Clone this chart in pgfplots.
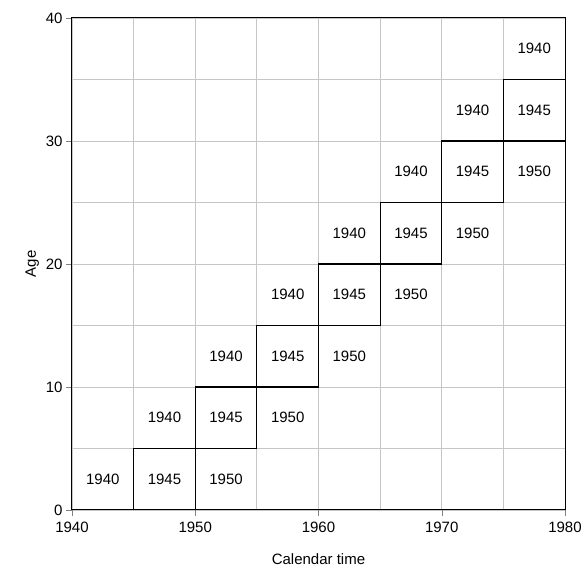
\documentclass[border=0pt]{standalone}
\usepackage{pgfplots}
\pgfplotsset{compat=1.18}
\usepackage{fontspec}
\setmainfont{Liberation Sans}
\begin{document}
\begin{tikzpicture}
\begin{axis}[scale only axis, width=493pt, height=492pt,
  xmin=1940, xmax=1980, ymin=0, ymax=40,
  xtick={1940,1950,...,1980}, ytick={0,10,...,40},
  minor xtick={1945,1955,...,1975}, minor ytick={5,15,...,35},
  grid=both, grid style={gray!45, line width=0.8pt}, minor grid style={gray!45, line width=0.8pt},
  xlabel={Calendar time}, ylabel={Age},
  tick align=outside, tick pos=left, minor tick length=0pt, major tick length=6pt,
  /pgf/number format/assume math mode=true,
  /pgf/number format/1000 sep={},
  ticklabel style={font=\fontsize{15}{17}\selectfont},
  xticklabel style={yshift=-3pt},
  label style={font=\fontsize{15}{17}\selectfont},
  xlabel style={yshift=-14pt},
  axis line style={black, line width=1pt}, clip=false]
\addplot[black, line width=1.2pt] coordinates {(1945,0)(1945,5)(1950,5)(1950,10)(1955,10)(1955,15)(1960,15)(1960,20)(1965,20)(1965,25)(1970,25)(1970,30)(1975,30)(1975,35)(1980,35)};
\addplot[black, line width=1.2pt] coordinates {(1950,0)(1950,5)(1955,5)(1955,10)(1960,10)(1960,15)(1965,15)(1965,20)(1970,20)(1970,25)(1975,25)(1975,30)(1980,30)};
\addplot[only marks, mark=none, nodes near coords, point meta=explicit symbolic,
  every node near coord/.append style={anchor=center, font=\fontsize{15}{17}\selectfont}] table[meta=l] {
x y l
1942.5 2.5 1940
1947.5 2.5 1945
1952.5 2.5 1950
1947.5 7.5 1940
1952.5 7.5 1945
1957.5 7.5 1950
1952.5 12.5 1940
1957.5 12.5 1945
1962.5 12.5 1950
1957.5 17.5 1940
1962.5 17.5 1945
1967.5 17.5 1950
1962.5 22.5 1940
1967.5 22.5 1945
1972.5 22.5 1950
1967.5 27.5 1940
1972.5 27.5 1945
1977.5 27.5 1950
1972.5 32.5 1940
1977.5 32.5 1945
1977.5 37.5 1940
};
\end{axis}
\useasboundingbox (current axis.south west) ++(-72pt,-64pt) rectangle ([shift={(22pt,18pt)}]current axis.north east);
\end{tikzpicture}
\end{document}
